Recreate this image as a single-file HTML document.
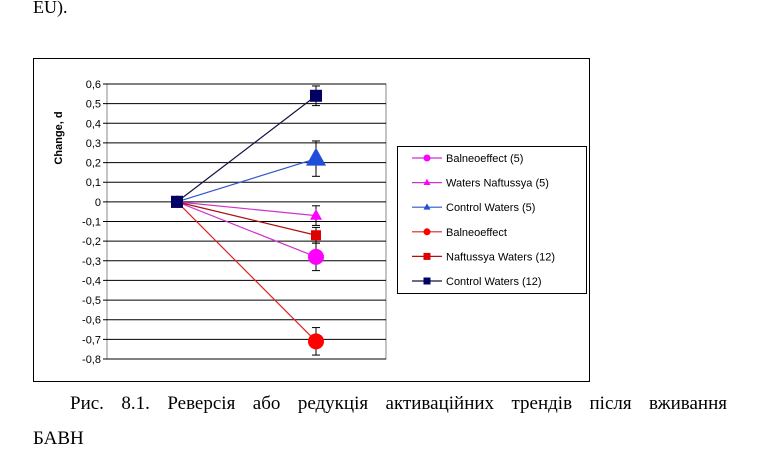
<!DOCTYPE html>
<html><head><meta charset="utf-8"><style>
html,body{margin:0;padding:0;background:#fff;width:768px;height:461px;overflow:hidden;position:relative}
svg{display:block}
.ser{font-family:"Liberation Serif",serif}
.san{font-family:"Liberation Sans",sans-serif}
#cap{position:absolute;left:70px;top:392px;width:657px;font-size:19px;text-align:justify;text-align-last:justify;white-space:nowrap;line-height:24px}
#cap2{position:absolute;left:33px;top:427px;font-size:19px;line-height:24px}
</style></head><body>
<svg id="svg" width="768" height="461">
<text class="ser" x="33" y="13" font-size="18">EU).</text>
<rect x="33.5" y="58.5" width="556" height="323" fill="#fff" stroke="#000"/>
<g id="plot"></g>
<text class="san" font-size="11" font-weight="bold" transform="translate(62,138) rotate(-90)" text-anchor="middle">Change, d</text>
<rect x="397.5" y="146.5" width="189" height="147" fill="#fff" stroke="#000"/>
<g id="legend"></g>
</svg>
<div id="cap" class="ser">Рис. 8.1. Реверсія або редукція активаційних трендів після вживання</div>
<div id="cap2" class="ser">БАВН</div>
<script>
const yTicks = [0.6,0.5,0.4,0.3,0.2,0.1,0,-0.1,-0.2,-0.3,-0.4,-0.5,-0.6,-0.7,-0.8];
const seriesNames = ["Balneoeffect (5)","Waters Naftussya (5)","Control Waters (5)","Balneoeffect","Naftussya Waters (12)","Control Waters (12)"];
const startValues = [0,0,0,0,0,0];
const endValues = [-0.28,-0.07,0.22,-0.71,-0.17,0.54];
const errValues = [0.07,0.05,0.09,0.07,0.04,0.05];
const colors = ["#ff00ff","#ff00ff","#1f4fd8","#ff0000","#e00000","#000066"];
const markers = ["circle","triangle","triangle","circle","square","square"];
const lineColors = ["#cc33cc","#cc33cc","#3355cc","#dd2222","#aa1111","#111144"];
const bigSize = [8,6,10,8,5,6];

const NS="http://www.w3.org/2000/svg";
const X0=107,X1=386,Yt=84,Yb=359,ymax=0.6,ymin=-0.8;
const y=v=>Yt+(ymax-v)/(ymax-ymin)*(Yb-Yt);
const xA=177,xB=316;
function mk(t,a,p){const e=document.createElementNS(NS,t);for(const k in a)e.setAttribute(k,a[k]);p.appendChild(e);return e;}
const plot=document.getElementById('plot');
mk('rect',{x:X0,y:Yt,width:X1-X0,height:Yb-Yt,fill:'#fff',stroke:'#888'},plot);
yTicks.forEach(t=>{
  const l=mk('line',{x1:X0-4,x2:X1,y1:y(t),y2:y(t),stroke:'#000','stroke-width':1},plot);
  
  
  const tx=mk('text',{x:X0-6,y:y(t)+4,'text-anchor':'end','font-size':11,class:'san'},plot);
  tx.textContent=String(t).replace('.',',');
  
  
});
function marker(kind,cx,cy,s,col,par){
  let e;
  if(kind==='circle')e=mk('circle',{cx,cy,r:s,fill:col},par);
  else if(kind==='square')e=mk('rect',{x:cx-s,y:cy-s,width:2*s,height:2*s,fill:col},par);
  else e=mk('polygon',{points:`${cx},${cy-s*1.1} ${cx-s},${cy+s*0.7} ${cx+s},${cy+s*0.7}`,fill:col},par);
  return e;
}
seriesNames.forEach((n,i)=>{
  const g=mk('g',{},plot);
  
  
  mk('line',{x1:xA,y1:y(startValues[i]),x2:xB,y2:y(endValues[i]),stroke:lineColors[i],'stroke-width':1.2},g);
  const e=endValues[i],er=errValues[i];
  mk('line',{x1:xB,x2:xB,y1:y(e+er),y2:y(e-er),stroke:'#000'},g);
  mk('line',{x1:xB-4,x2:xB+4,y1:y(e+er),y2:y(e+er),stroke:'#000'},g);
  mk('line',{x1:xB-4,x2:xB+4,y1:y(e-er),y2:y(e-er),stroke:'#000'},g);
  const m=marker(markers[i],xB,y(e),bigSize[i],colors[i],g);
  
  
});
[3,0,1,2,4,5].forEach(i=>marker(markers[i],xA,y(startValues[i]),6,colors[i],plot));
const lg=document.getElementById('legend');
seriesNames.forEach((n,i)=>{
  const yy=158+i*24.6;
  const g=mk('g',{},lg);
  
  
  mk('line',{x1:412,x2:442,y1:yy,y2:yy,stroke:lineColors[i],'stroke-width':1.2},g);
  marker(markers[i],427,yy,3.5,colors[i],g);
  const t=mk('text',{x:446,y:yy+4,'font-size':11,class:'san'},g);
  t.textContent=n;
});
</script>
</body></html>
